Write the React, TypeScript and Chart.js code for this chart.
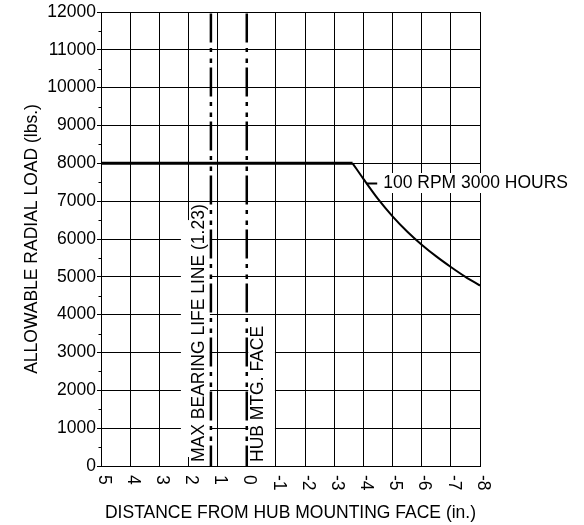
import React, { useEffect, useRef } from "react";
import { Chart, registerables } from "chart.js";

Chart.register(...registerables);

// ---- data ----
const xTickValues = [5, 4, 3, 2, 1, 0, -1, -2, -3, -4, -5, -6, -7, -8];
const xTickLabels = ["5", "4", "3", "2", "1", "0", "-1", "-2", "-3", "-4", "-5", "-6", "-7", "-8"];
const yMinorTicks = [500, 1500, 2500, 3500, 4500, 5500, 6500, 7500, 8500, 9500, 10500, 11500];

const flatX = [5, -3.63];
const flatY = [8000, 8000];
const curveX = [-3.63, -4, -4.5, -5, -5.5, -6, -6.5, -7, -7.5, -8];
const curveY = [8000, 7590, 7060, 6600, 6200, 5850, 5540, 5260, 5000, 4770];

const maxBearingX = 1.23;
const hubFaceX = 0;

const yAxisTitle = "ALLOWABLE RADIAL LOAD (lbs.)";
const xAxisTitle = "DISTANCE FROM HUB MOUNTING FACE (in.)";
const maxBearingLabel = "MAX BEARING LIFE LINE (1.23)";
const hubFaceLabel = "HUB MTG. FACE";
const curveLabel = "100 RPM 3000 HOURS";
const curveLabelX = -4.68;
const curveLabelY = 7480;

const FONT = '"Liberation Sans", Arial, Helvetica, sans-serif';
const FONT_SIZE = 17.5;
const DASH = [29, 5.5, 4, 6.5, 4.5, 4.5];

function pts(xs: number[], ys: number[]) {
  return xs.map((x, i) => ({ x, y: ys[i] }));
}

const decorPlugin = {
  id: "decor",
  beforeDatasetsDraw(chart: any) {
    const { ctx, chartArea } = chart;
    const xs = chart.scales.x;
    const ys = chart.scales.y;
    ctx.save();
    ctx.fillStyle = "#fff";
    // background boxes behind the vertical labels
    const mx = xs.getPixelForValue(maxBearingX);
    const mTop = ys.getPixelForValue(6500);
    ctx.fillRect(mx - 30, mTop, 29, chartArea.bottom - 9 - mTop);
    const hx = xs.getPixelForValue(hubFaceX);
    const hRight = xs.getPixelForValue(-1) - 1;
    const hTop = ys.getPixelForValue(3600);
    ctx.fillRect(hx + 1.5, hTop, hRight - hx - 1.5, chartArea.bottom - 9 - hTop);
    // box behind curve label
    const lx = xs.getPixelForValue(curveLabelX) - 3;
    const ly = ys.getPixelForValue(curveLabelY);
    ctx.fillRect(lx, ly - 10, 194, 20);
    // minor ticks on y axis
    ctx.strokeStyle = "#000";
    ctx.lineWidth = 1;
    ctx.beginPath();
    yMinorTicks.forEach((v) => {
      const y = Math.round(ys.getPixelForValue(v)) + 0.5;
      ctx.moveTo(chartArea.left - 2.5, y);
      ctx.lineTo(chartArea.left, y);
    });
    ctx.stroke();
    ctx.restore();
  },
  afterDatasetsDraw(chart: any) {
    const { ctx, chartArea } = chart;
    const xs = chart.scales.x;
    const ys = chart.scales.y;
    ctx.save();
    ctx.fillStyle = "#000";
    ctx.font = `${FONT_SIZE}px ${FONT}`;

    // x tick labels, rotated clockwise
    xTickValues.forEach((v, i) => {
      const px = xs.getPixelForValue(v);
      ctx.save();
      ctx.translate(px + 2.5, chartArea.bottom + 9);
      ctx.rotate(Math.PI / 2);
      ctx.textAlign = "left";
      ctx.textBaseline = "middle";
      ctx.fillText(xTickLabels[i], 0, 0);
      ctx.restore();
    });

    // x axis title
    ctx.textAlign = "center";
    ctx.textBaseline = "middle";
    ctx.fillText(xAxisTitle, (chartArea.left + chartArea.right) / 2, chartArea.bottom + 47);

    // y axis title
    ctx.save();
    ctx.translate(32.5, (chartArea.top + chartArea.bottom) / 2);
    ctx.rotate(-Math.PI / 2);
    ctx.fillText(yAxisTitle, 0, 0);
    ctx.restore();

    // vertical line labels
    const mx = xs.getPixelForValue(maxBearingX);
    ctx.save();
    ctx.translate(mx - 12, chartArea.bottom - 4);
    ctx.rotate(-Math.PI / 2);
    ctx.textAlign = "left";
    ctx.fillText(maxBearingLabel, 0, 0);
    ctx.restore();

    const hx = xs.getPixelForValue(hubFaceX);
    ctx.save();
    ctx.translate(hx + 11, chartArea.bottom - 4);
    ctx.rotate(-Math.PI / 2);
    ctx.textAlign = "left";
    ctx.fillText(hubFaceLabel, 0, 0);
    ctx.restore();

    // curve label with leader
    const ly = Math.round(ys.getPixelForValue(curveLabelY)) + 0.5;
    const lx = xs.getPixelForValue(curveLabelX);
    ctx.strokeStyle = "#000";
    ctx.lineWidth = 2;
    ctx.beginPath();
    ctx.moveTo(lx - 17, ly);
    ctx.lineTo(lx - 6, ly);
    ctx.stroke();
    ctx.textAlign = "left";
    ctx.fillText(curveLabel, lx, ly);
    ctx.restore();
  },
};

export default function App() {
  const ref = useRef<HTMLCanvasElement>(null);
  useEffect(() => {
    const chart = new Chart(ref.current as HTMLCanvasElement, {
      type: "line",
      data: {
        datasets: [
          {
            data: pts(flatX, flatY),
            borderColor: "#000",
            borderWidth: 3,
            pointRadius: 0,
            tension: 0,
          },
          {
            data: pts(curveX, curveY),
            borderColor: "#000",
            borderWidth: 2,
            pointRadius: 0,
            cubicInterpolationMode: "monotone",
          },
          {
            data: pts([maxBearingX, maxBearingX], [12000, 0]),
            borderColor: "#000",
            borderWidth: 2.5,
            pointRadius: 0,
            borderDash: DASH,
            borderDashOffset: -1.5,
          },
          {
            data: pts([hubFaceX, hubFaceX], [12000, 0]),
            borderColor: "#000",
            borderWidth: 2.5,
            pointRadius: 0,
            borderDash: DASH,
            borderDashOffset: -1.5,
          },
        ],
      },
      options: {
        animation: false,
        responsive: true,
        maintainAspectRatio: false,
        layout: { padding: { left: 0, right: 104, top: 12, bottom: 0 } },
        plugins: { legend: { display: false }, tooltip: { enabled: false } },
        scales: {
          x: {
            type: "linear",
            reverse: true,
            min: -8,
            max: 5,
            ticks: { display: false, stepSize: 1 },
            grid: {
              color: (c: any) => (c.tick && c.tick.value === hubFaceX ? "rgba(0,0,0,0)" : "#000"),
              lineWidth: 1,
              drawTicks: false,
            },
            border: { color: "#000", width: 1 },
            afterFit: (s: any) => {
              s.height = 59;
            },
          },
          y: {
            type: "linear",
            min: 0,
            max: 12000,
            ticks: {
              stepSize: 1000,
              color: "#000",
              padding: 1,
              font: { family: FONT, size: FONT_SIZE },
              callback: (v: any) => String(v),
            },
            grid: { color: "#000", lineWidth: 1, tickLength: 4 },
            border: { color: "#000", width: 1 },
            afterFit: (s: any) => {
              s.width = 101;
            },
          },
        },
      } as any,
      plugins: [decorPlugin],
    });
    return () => chart.destroy();
  }, []);
  return (
    <div style={{ position: "fixed", left: 0, top: 0, width: 584, height: 525, background: "#fff" }}>
      <canvas ref={ref} />
    </div>
  );
}
